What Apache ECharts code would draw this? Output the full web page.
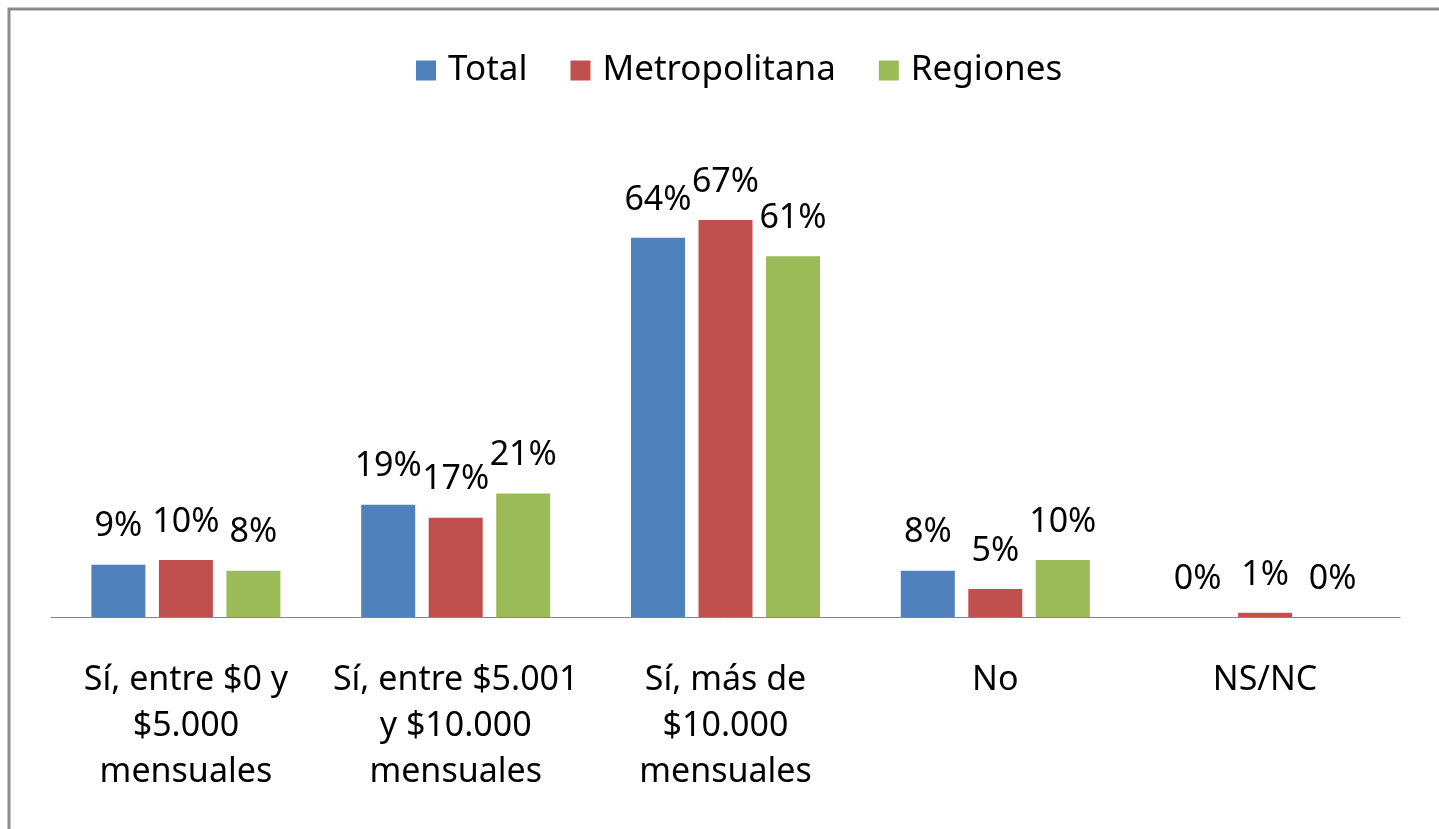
<!DOCTYPE html>
<html>
<head>
<meta charset="utf-8">
<script src="https://cdn.jsdelivr.net/npm/echarts@6/dist/echarts.min.js"></script>
<style>
  html, body { margin: 0; padding: 0; background: #fff; }
  #main { width: 1439px; height: 829px; }
</style>
</head>
<body>
<div id="main"></div>
<script>
// datos (en %)
var categorias = [
  'Sí, entre $0 y\n$5.000\nmensuales',
  'Sí, entre $5.001\ny $10.000\nmensuales',
  'Sí, más de\n$10.000\nmensuales',
  'No',
  'NS/NC'
];
var series_nombres = ['Total', 'Metropolitana', 'Regiones'];
var total = [8.8, 18.9, 63.8, 7.8, 0];
var metropolitana = [9.6, 16.7, 66.8, 4.7, 0.7];
var regiones = [7.8, 20.8, 60.7, 9.6, 0];
var colores = ['#4f81bd', '#c0504d', '#9bbb59'];

var fuente = 'Noto Sans';

function serie(nombre, datos, color) {
  return {
    name: nombre,
    type: 'bar',
    data: datos,
    barWidth: 54,
    barGap: '25%',
    itemStyle: { color: color },
    label: {
      show: true,
      position: 'top',
      distance: 21,
      color: '#000',
      fontFamily: fuente,
      fontSize: 34,
      formatter: function (p) { return Math.round(p.value) + '%'; }
    }
  };
}

var chart = echarts.init(document.getElementById('main'));
chart.setOption({
  animation: false,
  backgroundColor: '#fff',
  textStyle: { fontFamily: fuente },
  graphic: [{
    type: 'rect',
    shape: { x: 9, y: 9, width: 1500, height: 1000 },
    style: { fill: 'none', stroke: '#8c8c8c', lineWidth: 3 },
    z: 100
  }],
  legend: {
    top: 48,
    left: 411,
    itemWidth: 20,
    itemHeight: 20,
    itemGap: 43,
    icon: 'rect',
    data: series_nombres,
    textStyle: { fontFamily: fuente, fontSize: 35, color: '#000', padding: [0, 0, 0, 7] }
  },
  grid: { left: 51, right: 39, top: 201, bottom: 212 },
  xAxis: {
    type: 'category',
    data: categorias,
    axisLine: { lineStyle: { color: '#868686', width: 1 } },
    axisTick: { show: false },
    axisLabel: {
      interval: 0,
      margin: 40,
      color: '#000',
      fontFamily: fuente,
      fontSize: 34,
      lineHeight: 46
    }
  },
  yAxis: {
    type: 'value',
    min: 0,
    max: 70,
    show: false,
    splitLine: { show: false }
  },
  series: [
    serie(series_nombres[0], total, colores[0]),
    serie(series_nombres[1], metropolitana, colores[1]),
    serie(series_nombres[2], regiones, colores[2])
  ]
});
</script>
</body>
</html>
